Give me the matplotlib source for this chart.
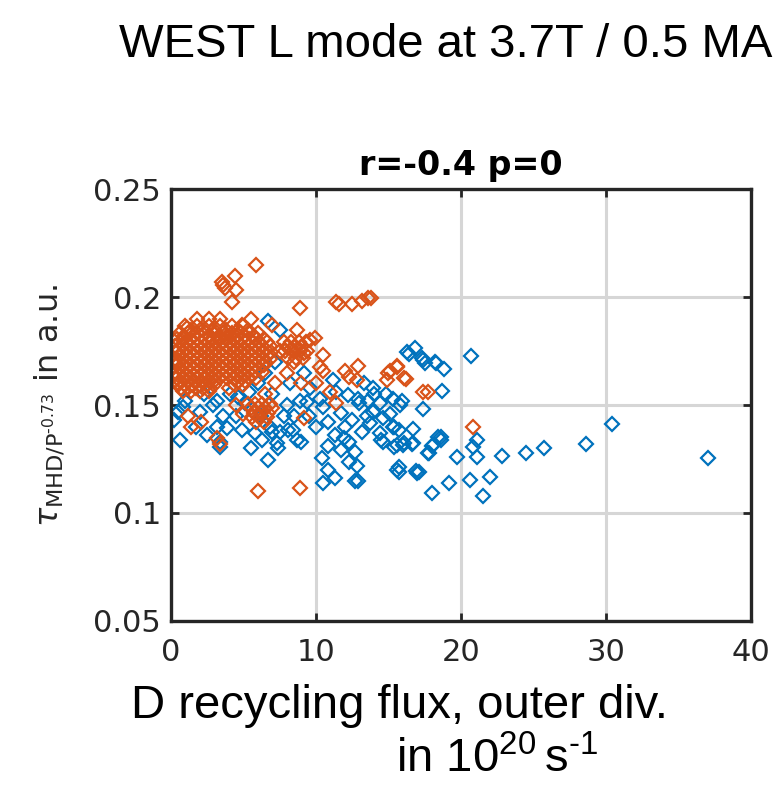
import matplotlib.pyplot as plt

plt.rcParams['mathtext.fontset'] = 'dejavusans'
plt.rcParams['axes.unicode_minus'] = False

# blue series
blue_x = [20.7, 30.4, 28.6, 25.7, 24.5, 22.8, 21.1, 21.1, 20.8, 19.7, 19.2, 20.6, 22.0, 21.5, 18.6, 18.8, 18.7, 37.0,
          16.8, 16.4, 17.4, 17.5, 18.3, 15.8, 17.4, 15.1, 14.6, 15.4, 15.7, 16.7, 14.5, 15.4, 16.0, 16.6, 16.7, 18.4,
          18.0, 17.8, 15.7, 15.7, 17.0, 17.1, 16.9, 18.0,
          9.0, 8.4, 10.4, 10.8, 10.5, 11.3, 12.7, 12.9, 12.3, 12.8, 12.7, 10.5, 9.4, 10.8, 11.7, 12.5, 13.0, 13.9,
          11.3, 11.9, 12.3, 13.2, 13.7, 14.4, 14.6, 15.3, 15.6, 16.1, 17.7, 18.1, 18.6, 15.6,
          16.3, 17.3, 18.2, 13.9, 12.2, 12.9, 11.2, 11.4, 9.6, 8.9, 10.3, 14.4, 14.8, 15.3, 15.9, 13.6,
          0.5, 0.6, 1.7, 2.5, 3.4, 3.4, 3.2, 3.9, 4.9, 3.2, 2.9, 4.6, 5.1, 5.4, 4.1, 6.8, 6.3, 7.0, 7.5, 8.1, 7.3,
          7.4, 6.7, 8.7, 0.8, 6.7, 7.5, 0.2, 1.0, 2.0, 2.3, 6.0, 7.0, 8.0, 8.5, 9.5, 7.8, 5.8, 4.5, 3.6, 6.5, 7.2,
          8.2, 9.2, 10.0, 13.5, 14.0, 13.3, 12.0, 10.8, 11.7, 5.5, 6.2]
blue_y = [0.1727, 0.141, 0.132, 0.130, 0.128, 0.1264, 0.126, 0.134, 0.1306, 0.126, 0.114, 0.1153, 0.1167, 0.108, 0.134,
          0.1667, 0.1565, 0.1255,
          0.1764, 0.1736, 0.171, 0.1695, 0.1694, 0.150, 0.148, 0.146, 0.144, 0.140, 0.1384, 0.139, 0.134, 0.1306,
          0.1315, 0.132, 0.1325, 0.135, 0.131, 0.128, 0.1213, 0.119, 0.1185, 0.119, 0.1195, 0.1093,
          0.133, 0.1384, 0.1255, 0.120, 0.114, 0.1162, 0.115, 0.115, 0.1236, 0.122, 0.1283, 0.149, 0.1514, 0.142,
          0.1463, 0.143, 0.151, 0.1468, 0.136, 0.1347, 0.133, 0.1375, 0.1417, 0.137, 0.133, 0.140, 0.1315, 0.1324,
          0.128, 0.1315, 0.135, 0.1199,
          0.1745, 0.172, 0.170, 0.158, 0.1546, 0.153, 0.1616, 0.156, 0.158, 0.152, 0.153, 0.151, 0.155, 0.153,
          0.152, 0.152,
          0.147, 0.134, 0.140, 0.136, 0.133, 0.1306, 0.140, 0.1394, 0.1384, 0.152, 0.150, 0.1537, 0.151, 0.156,
          0.155, 0.140, 0.134, 0.1375, 0.1375, 0.1384, 0.1324, 0.130, 0.1245, 0.134, 0.149, 0.189, 0.1847, 0.143,
          0.152, 0.147, 0.155, 0.160, 0.155, 0.150, 0.145, 0.145, 0.145, 0.137, 0.145, 0.145, 0.165, 0.170,
          0.160, 0.165, 0.140, 0.145, 0.155, 0.160, 0.140, 0.131, 0.129, 0.130, 0.145]

# orange series: scattered points
orange_x = [5.9, 4.4, 3.5, 3.6, 3.7, 4.5, 4.2, 4.9, 3.4, 1.8, 1.1, 8.9, 11.4, 11.6, 12.5, 13.2, 13.6, 13.8, 10.5,
            9.6, 9.9, 8.7, 10.3, 10.5, 12.0, 12.3, 12.8, 12.9, 14.9, 15.1, 15.6, 16.1, 17.4, 15.0, 15.6, 16.2,
            17.7, 20.8, 11.4, 9.2, 8.9, 6.0, 1.2, 1.4, 2.1, 3.2, 3.4, 0.5, 7.5, 8.0, 7.2, 9.0, 8.5, 11.0, 7.0,
            5.5, 2.6, 0.3, 6.5, 4.5, 5.0, 4.0, 10.0, 9.4]
orange_y = [0.2148, 0.210, 0.207, 0.2056, 0.204, 0.2033, 0.1977, 0.187, 0.190, 0.190, 0.1857, 0.195, 0.1977, 0.197,
            0.1968, 0.198, 0.1995, 0.1995, 0.173, 0.180, 0.181, 0.1847, 0.1676, 0.166, 0.166, 0.163, 0.1616,
            0.168, 0.1616, 0.166, 0.1676, 0.1625, 0.156, 0.165, 0.168, 0.162, 0.156, 0.140, 0.151, 0.144,
            0.1116, 0.110, 0.145, 0.140, 0.142, 0.1347, 0.132, 0.160, 0.175, 0.165, 0.160, 0.160, 0.170, 0.156,
            0.187, 0.190, 0.190, 0.170, 0.155, 0.150, 0.146, 0.158, 0.160, 0.175]

# orange series: dense cluster near the origin
cluster_x = [1.0, 1.8, 2.6, 3.4, 4.2, 5.0,
             1.4, 2.2, 3.0, 3.8, 4.6, 5.3,
             0.6, 1.2, 1.8, 2.4, 3.0, 3.6, 4.2, 4.8, 5.4, 6.0,
             0.9, 1.5, 2.1, 2.7, 3.3, 3.9, 4.5, 5.1, 5.7,
             0.4, 0.9, 1.4, 1.9, 2.4, 2.9, 3.4, 3.9, 4.4, 4.9, 5.4, 5.9, 6.4,
             0.6, 1.1, 1.6, 2.1, 2.6, 3.1, 3.6, 4.1, 4.6, 5.1, 5.6, 6.1, 6.6,
             0.3, 0.8, 1.3, 1.8, 2.3, 2.8, 3.3, 3.8, 4.3, 4.8, 5.3, 5.8, 6.3, 6.8,
             0.5, 1.0, 1.5, 2.0, 2.5, 3.0, 3.5, 4.0, 4.5, 5.0, 5.5, 6.0, 6.5,
             0.4, 0.9, 1.4, 1.9, 2.4, 2.9, 3.4, 3.9, 4.4, 4.9, 5.4, 5.9, 6.4, 6.9,
             0.6, 1.1, 1.6, 2.1, 2.6, 3.1, 3.6, 4.1, 4.6, 5.1, 5.6, 6.1, 6.6,
             0.3, 0.8, 1.3, 1.8, 2.3, 2.8, 3.3, 3.8, 4.3, 4.8, 5.3, 5.8, 6.3, 6.8,
             0.5, 1.0, 1.5, 2.0, 2.5, 3.0, 3.5, 4.0, 4.5, 5.0, 5.5, 6.0, 6.5,
             0.4, 0.9, 1.4, 1.9, 2.4, 2.9, 3.4, 3.9, 4.4, 4.9, 5.4, 5.9, 6.4,
             0.6, 1.1, 1.6, 2.1, 2.6, 3.1, 3.6, 4.1, 4.6, 5.1, 5.6, 6.1,
             0.3, 0.8, 1.3, 1.8, 2.3, 2.8, 3.3, 3.8, 4.3, 4.8, 5.3, 5.8, 6.3,
             0.5, 1.0, 1.5, 2.0, 2.5, 3.0, 3.5, 4.0, 4.5, 5.0, 5.5,
             0.4, 0.9, 1.4, 1.9, 2.4, 2.9, 3.4, 3.9, 4.4, 4.9, 5.4, 5.9,
             0.6, 1.1, 1.6, 2.1, 2.6, 3.0, 4.6, 5.1,
             0.5, 1.0, 1.5, 2.0, 2.5, 3.0, 4.4, 5.0,
             0.7, 1.2, 1.7, 2.2, 2.7,
             0.8, 1.4, 2.0, 2.6,
             7.8, 8.3, 8.8, 9.3, 8.0, 8.5, 9.0, 7.9, 8.4, 8.9, 9.2, 8.1, 8.6, 9.1,
             5.3, 5.8, 6.3, 6.8, 5.5, 6.0, 6.5, 7.0, 5.7, 6.2, 6.7, 5.6, 6.1, 6.6, 5.9, 6.4]
cluster_y = [0.1865] * 6 + [0.1850] * 6 + [0.1835] * 10 + [0.1820] * 9 + [0.1805] * 13 + [0.1790] * 13 \
    + [0.1775] * 14 + [0.1760] * 13 + [0.1745] * 14 + [0.1730] * 13 + [0.1715] * 14 + [0.1700] * 13 \
    + [0.1685] * 13 + [0.1670] * 12 + [0.1655] * 13 + [0.1640] * 11 + [0.1625] * 12 + [0.1610] * 8 \
    + [0.1595] * 8 + [0.1580] * 5 + [0.1565] * 4 \
    + [0.1790, 0.1790, 0.1790, 0.1790, 0.1770, 0.1770, 0.1770, 0.1750, 0.1750, 0.1750, 0.1740,
       0.1720, 0.1720, 0.1720] \
    + [0.1505, 0.1505, 0.1505, 0.1505, 0.1485, 0.1485, 0.1485, 0.1485, 0.1465, 0.1465, 0.1465,
       0.1445, 0.1445, 0.1445, 0.1420, 0.1420]

xticks = [0, 10, 20, 30, 40]
yticks = [0.05, 0.1, 0.15, 0.2, 0.25]
ytick_labels = ['0.05', '0.1', '0.15', '0.2', '0.25']

blue = '#0072BD'
orange = '#D95319'

fig = plt.figure(figsize=(7.84, 7.85), dpi=100)
ax = fig.add_axes([0.218, 0.209, 0.740, 0.550])

ax.plot(blue_x, blue_y, 'D', ms=7.5, mfc='none', mec=blue, mew=1.6)
ax.plot(orange_x + cluster_x, orange_y + cluster_y, 'D', ms=7.5, mfc='none', mec=orange, mew=1.6)

ax.set_xlim(0, 40)
ax.set_ylim(0.05, 0.25)
ax.set_xticks(xticks)
ax.set_yticks(yticks)
ax.set_yticklabels(ytick_labels)
ax.grid(True, color='#d6d6d6', lw=2.2)
ax.set_axisbelow(True)
ax.tick_params(direction='in', length=6, width=2, labelsize=22, colors='#262626',
               top=True, right=True, pad=7)
ax.tick_params(axis='x', pad=12)
for sp in ax.spines.values():
    sp.set_linewidth(2.4)
    sp.set_color('#262626')

ax.set_title('r=-0.4 p=0', fontsize=24, fontweight='bold', pad=10)
# U+2010 hyphen keeps the short dash of the original instead of a math minus
ax.set_ylabel('$\\tau_{\\mathregular{MHD/P}^{\\mathregular{\u20100.73}}}$ in a.u.', fontsize=23,
              color='#262626', labelpad=20)

fig.text(0.568, 0.943, 'WEST L mode at 3.7T / 0.5 MA', fontsize=34, family='Liberation Sans',
         ha='center', va='center')
fig.text(0.510, 0.101, 'D recycling flux, outer div.', fontsize=34, family='Liberation Sans',
         ha='center', va='center')
fig.text(0.634, 0.032, 'in 10$^{\\mathregular{20}}\\,$s$^{\\mathregular{\u20101}}$', fontsize=34,
         family='Liberation Sans', ha='center', va='center')

fig.savefig('out.png', dpi=100)
